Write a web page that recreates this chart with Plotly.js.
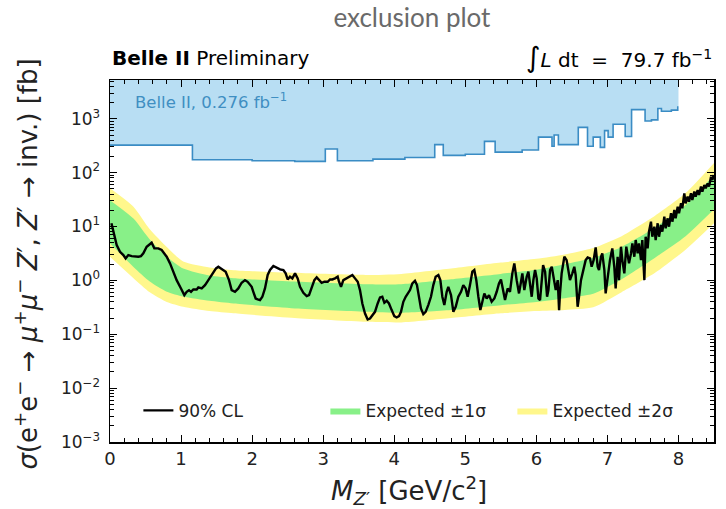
<!DOCTYPE html>
<html>
<head>
<meta charset="utf-8">
<script src="https://cdn.plot.ly/plotly-3.0.1.min.js"></script>
<style>html,body{margin:0;padding:0;background:#fff;}#chart{width:726px;height:509px;}</style>
</head>
<body>
<div id="chart"></div>
<script>
// Expected band (fb)
const bandMass = [0, 0.33, 0.56, 0.8, 1.03, 1.4, 1.74, 2.6, 3.6, 4.1, 4.8, 5.5, 6.0, 6.4, 6.8, 7.2, 7.67, 8.1, 8.5];
const exp2Up   = [51.3, 23.4, 8.91, 4.17, 2.24, 1.74, 1.55, 1.38, 1.26, 1.32, 1.66, 2.14, 2.51, 3.02, 3.98, 6.61, 15.8, 41.7, 151];
const exp1Up   = [30.9, 14.1, 5.75, 2.75, 1.66, 1.23, 1.10, 0.955, 0.851, 0.851, 1.05, 1.32, 1.58, 2.00, 2.63, 4.17, 9.55, 25.1, 91.2];
const exp1Down = [4.90, 1.78, 0.955, 0.617, 0.501, 0.417, 0.372, 0.302, 0.263, 0.251, 0.282, 0.347, 0.398, 0.468, 0.562, 1.05, 2.63, 6.61, 20.9];
const exp2Down = [2.75, 1.10, 0.603, 0.398, 0.324, 0.269, 0.245, 0.200, 0.170, 0.166, 0.200, 0.245, 0.269, 0.282, 0.316, 0.603, 1.38, 3.72, 11.5];

// Observed 90% CL limit (fb)
const obsMass = [0.02,0.047,0.094,0.141,0.188,0.22,0.258,0.305,0.352,0.399,0.436,0.469,0.516,0.563,0.586,0.624,0.68,0.727,0.798,0.845,0.891,0.938,0.999,1.046,1.079,1.112,1.14,1.173,1.22,1.243,1.29,1.337,1.384,1.44,1.492,1.525,1.581,1.628,1.675,1.712,1.759,1.806,1.853,1.9,1.937,1.97,1.994,2.017,2.05,2.078,2.111,2.144,2.181,2.219,2.252,2.299,2.346,2.393,2.44,2.472,2.5,2.533,2.566,2.604,2.641,2.674,2.721,2.768,2.801,2.838,2.876,2.909,2.942,2.979,3.017,3.064,3.096,3.129,3.167,3.204,3.223,3.251,3.284,3.331,3.378,3.411,3.448,3.486,3.518,3.551,3.589,3.626,3.659,3.692,3.729,3.767,3.8,3.832,3.861,3.894,3.926,3.964,4.001,4.034,4.067,4.095,4.128,4.161,4.222,4.255,4.292,4.32,4.348,4.376,4.409,4.442,4.479,4.517,4.55,4.583,4.621,4.649,4.677,4.705,4.738,4.761,4.799,4.832,4.865,4.902,4.94,4.972,5.005,5.033,5.066,5.099,5.127,5.155,5.184,5.212,5.24,5.268,5.301,5.334,5.371,5.409,5.442,5.474,5.502,5.535,5.559,5.596,5.629,5.662,5.69,5.723,5.756,5.784,5.803,5.831,5.864,5.888,5.916,5.935,5.958,5.982,6.005,6.029,6.052,6.076,6.095,6.123,6.151,6.17,6.193,6.217,6.245,6.273,6.301,6.32,6.333,6.356,6.394,6.426,6.45,6.473,6.506,6.534,6.553,6.581,6.6,6.628,6.661,6.694,6.722,6.755,6.778,6.806,6.835,6.863,6.882,6.91,6.928,6.957,6.975,7.004,7.036,7.069,7.097,7.116,7.144,7.163,7.191,7.21,7.238,7.266,7.285,7.304,7.332,7.351,7.379,7.398,7.426,7.444,7.473,7.491,7.52,7.538,7.566,7.585,7.613,7.632,7.66,7.679,7.707,7.726,7.754,7.773,7.801,7.82,7.848,7.867,7.895,7.914,7.942,7.96,7.989,8.007,8.036,8.054,8.082,8.101,8.129,8.148,8.176,8.195,8.223,8.242,8.27,8.289,8.317,8.336,8.364,8.383,8.411,8.43,8.458,8.477,8.495];
const obsLimit = [11.5,7.94,4.53,3.40,2.95,2.56,2.95,2.82,2.75,2.75,2.82,3.17,4.22,4.86,5.00,3.93,3.93,3.66,2.75,2.07,1.45,1.01,0.708,0.532,0.614,0.659,0.614,0.679,0.679,0.740,0.708,0.817,1.01,1.35,1.67,1.79,1.60,1.45,1.01,0.659,0.614,0.708,0.904,1.01,0.942,0.817,0.760,0.614,0.461,0.443,0.431,0.497,0.710,1.26,1.56,1.85,1.74,1.60,1.56,1.35,1.04,1.17,1.09,1.35,1.09,0.762,0.589,0.511,0.533,0.710,1.01,1.14,1.04,0.904,0.944,0.944,1.04,1.04,1.09,1.17,0.944,0.762,1.01,1.09,1.17,1.26,1.09,0.944,0.661,0.373,0.243,0.188,0.196,0.226,0.261,0.373,0.483,0.497,0.384,0.419,0.373,0.281,0.217,0.205,0.217,0.261,0.401,0.497,0.661,0.879,0.984,0.818,0.497,0.301,0.237,0.261,0.348,0.497,0.818,1.17,1.26,1.01,0.497,0.348,0.615,0.762,0.533,0.261,0.324,0.497,0.615,0.818,0.710,0.497,0.818,1.45,1.56,1.01,0.497,0.281,0.401,0.573,0.462,0.533,0.401,0.462,0.615,0.879,1.04,0.661,0.431,0.710,0.615,1.35,2.07,1.01,0.573,0.944,1.35,0.661,1.17,1.45,0.710,0.497,1.01,1.56,1.09,0.462,0.431,1.09,1.93,1.45,0.497,0.661,1.56,1.79,1.17,0.661,1.01,0.281,0.573,1.35,2.75,2.38,1.55,1.01,1.35,1.79,1.26,0.324,0.497,1.01,1.55,2.38,2.67,2.56,1.79,2.38,4.10,1.79,1.55,2.75,3.17,1.55,0.573,1.17,2.38,3.93,1.79,0.710,2.75,1.01,4.22,2.38,1.35,4.22,2.75,2.07,3.17,4.86,2.75,5.61,3.17,4.86,2.38,5.61,1.01,6.47,3.93,8.02,12.3,6.47,9.93,5.61,11.5,6.47,10.7,8.02,15.2,9.25,14.2,9.93,17.6,12.3,20.3,14.2,23.4,17.6,27.0,21.8,41.3,27.0,35.8,29.0,41.3,31.1,44.4,35.8,47.6,38.5,55.0,44.4,59.0,51.2,63.4,55.0,84.3,73.1,90.6];

// Previous Belle II (0.276 fb^-1) limit, step curve (fb)
const prevMass  = [0, 1.16, 2.0, 2.6, 3.03, 3.2, 3.7, 4.15, 4.57, 4.69, 5.0, 5.27, 5.42, 5.8, 6.03, 6.22, 6.25, 6.31, 6.59, 6.72, 6.80, 6.90, 6.96, 7.01, 7.08, 7.25, 7.34, 7.53, 7.62, 7.71, 7.76, 7.90, 7.99, 8.0];
const prevLimit = [324, 174, 166, 162, 275, 166, 178, 191, 331, 209, 219, 380, 240, 263, 457, 309, 501, 331, 692, 309, 457, 295, 603, 457, 794, 468, 1479, 912, 955, 1549, 1380, 1445, 1660, 1660];
const prevCeil  = [1e5, 1e5];
const prevCeilMass = [0, 8.0];

// Tick labels
const yTickVals = [0.001, 0.01, 0.1, 1, 10, 100, 1000];
const yTickText = ['10<sup>−3</sup>','10<sup>−2</sup>','10<sup>−1</sup>','10<sup>0</sup>','10<sup>1</sup>','10<sup>2</sup>','10<sup>3</sup>'];
const xTickVals = [0,1,2,3,4,5,6,7,8];

const FONT = 'DejaVu Sans, Arial, sans-serif';
const yellow = '#fff78c';
const green = '#88f088';

const traces = [
  {x: prevCeilMass, y: prevCeil, mode:'lines', line:{width:0}, showlegend:false, hoverinfo:'skip'},
  {x: prevMass, y: prevLimit, mode:'lines', line:{shape:'hv', color:'#3a8cc4', width:1.6}, fill:'tonexty', fillcolor:'#b8def3', showlegend:false},
  {x: bandMass, y: exp2Down, mode:'lines', line:{width:0, shape:'spline', smoothing:0.6}, showlegend:false, hoverinfo:'skip'},
  {x: bandMass, y: exp2Up, mode:'lines', line:{width:0, shape:'spline', smoothing:0.6}, fill:'tonexty', fillcolor:yellow, name:'Expected ±2σ', legendrank:3},
  {x: bandMass, y: exp1Down, mode:'lines', line:{width:0, shape:'spline', smoothing:0.6}, showlegend:false, hoverinfo:'skip'},
  {x: bandMass, y: exp1Up, mode:'lines', line:{width:0, shape:'spline', smoothing:0.6}, fill:'tonexty', fillcolor:green, name:'Expected ±1σ', legendrank:2},
  {x: obsMass, y: obsLimit, mode:'lines', line:{color:'#000', width:2.4}, name:'90% CL', legendrank:1}
];

const layout = {
  width:726, height:509,
  margin:{l:110, r:12, t:80, b:67},
  paper_bgcolor:'#fff', plot_bgcolor:'#fff',
  title:{text:'exclusion plot', font:{family:'Lato, sans-serif', size:26, color:'#6a6a6a'}, x:0.5, xref:'paper', xanchor:'center', y:0.965, yanchor:'middle'},
  font:{family:FONT, color:'#222'},
  xaxis:{range:[0,8.5], tickmode:'array', tickvals:xTickVals, ticks:'inside', ticklen:7, tickwidth:1, tickcolor:'#000',
         showline:true, linecolor:'#000', linewidth:1.5, mirror:'allticks', showgrid:false, zeroline:false,
         minor:{ticks:'inside', dtick:0.2, tick0:0, ticklen:4, tickcolor:'#000', showgrid:false},
         tickfont:{family:FONT, size:18, color:'#222'}},
  yaxis:{type:'log', range:[-3,3.72], tickmode:'array', tickvals:yTickVals, ticktext:yTickText, ticks:'inside', ticklen:7, tickwidth:1, tickcolor:'#000',
         showline:true, linecolor:'#000', linewidth:1.5, mirror:'allticks', showgrid:false, zeroline:false,
         minor:{ticks:'inside', dtick:'D1', ticklen:4, tickcolor:'#000', showgrid:false},
         ticklabelstandoff:5,
         tickfont:{family:FONT, size:17, color:'#222'}},
  legend:{orientation:'h', x:0.047, xanchor:'left', y:0.086, yanchor:'middle', bgcolor:'rgba(0,0,0,0)',
          font:{family:FONT, size:17, color:'#222'}, entrywidth:142, traceorder:'normal'},
  annotations:[
    {xref:'paper', yref:'paper', x:0, y:1.061, xanchor:'left', yanchor:'middle', showarrow:false,
     text:'<b>Belle II</b> Preliminary', font:{family:FONT, size:20, color:'#000'}},
    {xref:'paper', yref:'paper', x:1, y:1.061, xanchor:'right', yanchor:'middle', showarrow:false,
     text:'<span style="font-size:28px">∫</span><i>L</i> dt  =  79.7 fb<sup>−1</sup>', font:{family:FONT, size:20, color:'#000'}},
    {xref:'paper', yref:'paper', x:0.038, y:0.942, xanchor:'left', yanchor:'middle', showarrow:false,
     text:'Belle II, 0.276 fb<sup>−1</sup>', font:{family:FONT, size:16.5, color:'#3f8fc2'}},
    {xref:'paper', yref:'paper', x:0, xshift:-84, y:0.49, xanchor:'center', yanchor:'middle', textangle:-90, showarrow:false,
     text:'<i>σ</i>(e<sup>+</sup>e<sup>−</sup> → <i>μ</i><sup>+</sup><i>μ</i><sup>−</sup> <i>Z</i>′, <i>Z</i>′ → inv.) [fb]', font:{family:FONT, size:26, color:'#222'}},
    {xref:'paper', yref:'paper', x:0.495, y:-0.135, xanchor:'center', yanchor:'middle', showarrow:false,
     text:'<i>M</i><sub><i>Z</i>′</sub> [GeV/c<sup>2</sup>]', font:{family:FONT, size:26, color:'#222'}}
  ]
};

Plotly.newPlot('chart', traces, layout, {staticPlot:true, displayModeBar:false});
</script>
</body>
</html>
